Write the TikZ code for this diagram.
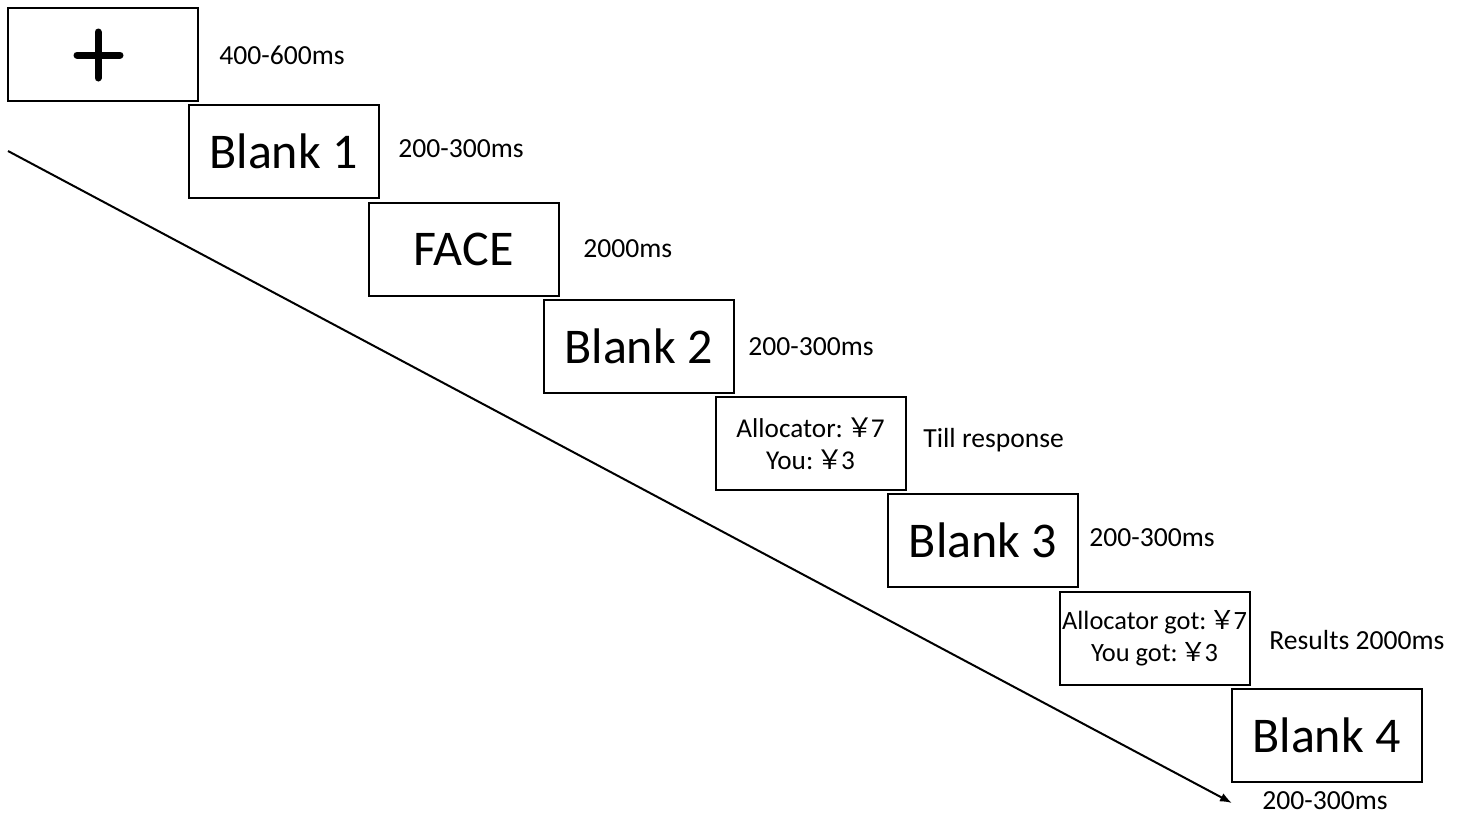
\documentclass[tikz,border=0pt]{standalone}
\usepackage{fontspec}
\setmainfont{Carlito}
\newfontfamily\cjk{Noto Sans CJK SC}
\usetikzlibrary{arrows.meta,calc}
\newcommand{\yen}{\hspace{0.12em}{\cjk ￥}\kern-0.1em}
\begin{document}
\begin{tikzpicture}[x=0.5pt,y=-0.5pt,
  frame/.style={draw,line width=1pt,minimum width=95pt,minimum height=46.5pt,inner sep=0pt,font=\fontsize{25}{30}\selectfont},
  small/.style={draw,line width=1pt,minimum width=95pt,minimum height=46.5pt,inner sep=0pt,align=center,font=\fontsize{13.6}{16.2}\selectfont},
  lbl/.style={anchor=west,inner sep=0pt,font=\fontsize{13.8}{16}\selectfont}]
\useasboundingbox (0,0) rectangle (1465,816);
\node[frame] (b1) at (103,54) {};
\draw[line width=3.5pt,line cap=round] ($(b1)+(-26,1)$) -- ($(b1)+(17,1)$);
\draw[line width=3.5pt,line cap=round] ($(b1)+(-5,-22)$) -- ($(b1)+(-5,24)$);
\node[frame] (b2) at (283.5,151) {Blank 1};
\node[frame] (b3) at (463.5,249) {FACE};
\node[frame] (b4) at (638.5,346) {Blank 2};
\node[small] (b5) at (810.5,443.5) {Allocator:\yen7\\You:\yen3};
\node[frame] (b6) at (983,540.5) {Blank 3};
\node[small,font=\fontsize{13.2}{15.8}\selectfont] (b7) at (1154.5,638.5) {Allocator got:\yen7\\You got:\yen3};
\node[frame] (b8) at (1326.5,735.5) {Blank 4};
\node[lbl] (l1) at (219,55) {400-600ms};
\node[lbl] (l2) at (398,149) {200-300ms};
\node[lbl] (l3) at (583,249) {2000ms};
\node[lbl] (l4) at (748,347) {200-300ms};
\node[lbl] (l5) at (923,440) {Till response};
\node[lbl] (l6) at (1089,538) {200-300ms};
\node[lbl] (l7) at (1269,640) {Results 2000ms};
\node[lbl] (l8) at (1262,801) {200-300ms};
\coordinate (s) at (8,151);
\coordinate (e) at (1232,803);
\draw[line width=1pt,-{Latex[length=6pt,width=4.5pt]}] (s) -- (e);
\end{tikzpicture}
\end{document}
